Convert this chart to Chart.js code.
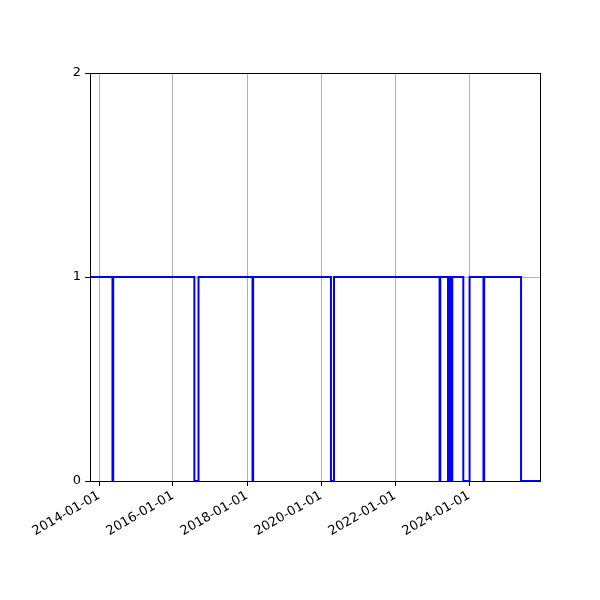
<!DOCTYPE html>
<html>
<head>
<meta charset="utf-8">
<script src="https://cdn.jsdelivr.net/npm/chart.js@4/dist/chart.umd.min.js"></script>
<style>
html,body{margin:0;padding:0;background:#fff;}
#wrap{width:600px;height:600px;}
</style>
</head>
<body>
<div id="wrap"><canvas id="c" width="600" height="600"></canvas></div>
<script>
const dates = [
  '2013-10-04','2014-05-14','2014-05-21','2016-07-30','2016-09-09',
  '2018-02-24','2018-03-02','2020-04-08','2020-05-08',
  '2023-03-16','2023-03-23','2023-06-07','2023-06-14','2023-06-24','2023-07-01',
  '2023-07-10','2023-07-19','2023-11-05','2024-01-06',
  '2024-05-22','2024-05-29','2025-05-28','2025-12-01'
];
const values = [
  1,0,1,0,1,
  0,1,0,1,
  0,1,0,1,0,1,
  0,1,0,1,
  0,1,0,0
];
const tickYears = [2014, 2016, 2018, 2020, 2022, 2024];
const yTicks = [0, 1, 2];

const toMs = s => Date.parse(s + 'T00:00:00Z');
const points = dates.map((d, i) => ({x: toMs(d), y: values[i]}));
const pad2 = n => String(n).padStart(2, '0');
const fmt = v => { const d = new Date(v); return d.getUTCFullYear() + '-' + pad2(d.getUTCMonth()+1) + '-' + pad2(d.getUTCDate()); };

const frame = {
  id: 'frame',
  afterDraw(chart) {
    const a = chart.chartArea, ctx = chart.ctx;
    ctx.save();
    ctx.strokeStyle = '#000';
    ctx.lineWidth = 1;
    ctx.strokeRect(Math.round(a.left) + 0.5, Math.round(a.top) + 0.5, Math.round(a.right - a.left), Math.round(a.bottom - a.top));
    ctx.restore();
  }
};

new Chart(document.getElementById('c'), {
  type: 'line',
  data: {
    datasets: [{
      data: points,
      borderColor: '#0000ff',
      borderWidth: 2,
      pointRadius: 0,
      stepped: 'before',
      fill: false
    }]
  },
  options: {
    responsive: false,
    animation: false,
    devicePixelRatio: 1,
    layout: {padding: {left: 0, right: 60, top: 73, bottom: 0}},
    plugins: {legend: {display: false}, tooltip: {enabled: false}},
    scales: {
      x: {
        type: 'linear',
        min: toMs(dates[0]),
        max: toMs(dates[dates.length - 1]),
        afterBuildTicks: s => { s.ticks = tickYears.map(y => ({value: Date.UTC(y, 0, 1)})); },
        afterFit: s => { s.height = 119; },
        grid: {color: '#b0b0b0', lineWidth: 1, tickColor: '#000', tickLength: 5},
        border: {color: '#000', width: 1},
        ticks: {
          color: '#000',
          font: {family: 'DejaVu Sans', size: 13},
          maxRotation: 30, minRotation: 30,
          padding: 2,
          callback: v => fmt(v)
        }
      },
      y: {
        type: 'linear',
        min: 0, max: 2,
        afterBuildTicks: s => { s.ticks = yTicks.map(v => ({value: v})); },
        afterFit: s => { s.width = 90; },
        grid: {color: '#b0b0b0', lineWidth: 1, tickColor: '#000', tickLength: 5},
        border: {color: '#000', width: 1},
        ticks: {
          color: '#000',
          font: {family: 'DejaVu Sans', size: 13},
          padding: 4,
          callback: v => String(v)
        }
      }
    }
  },
  plugins: [frame]
});
</script>
</body>
</html>
